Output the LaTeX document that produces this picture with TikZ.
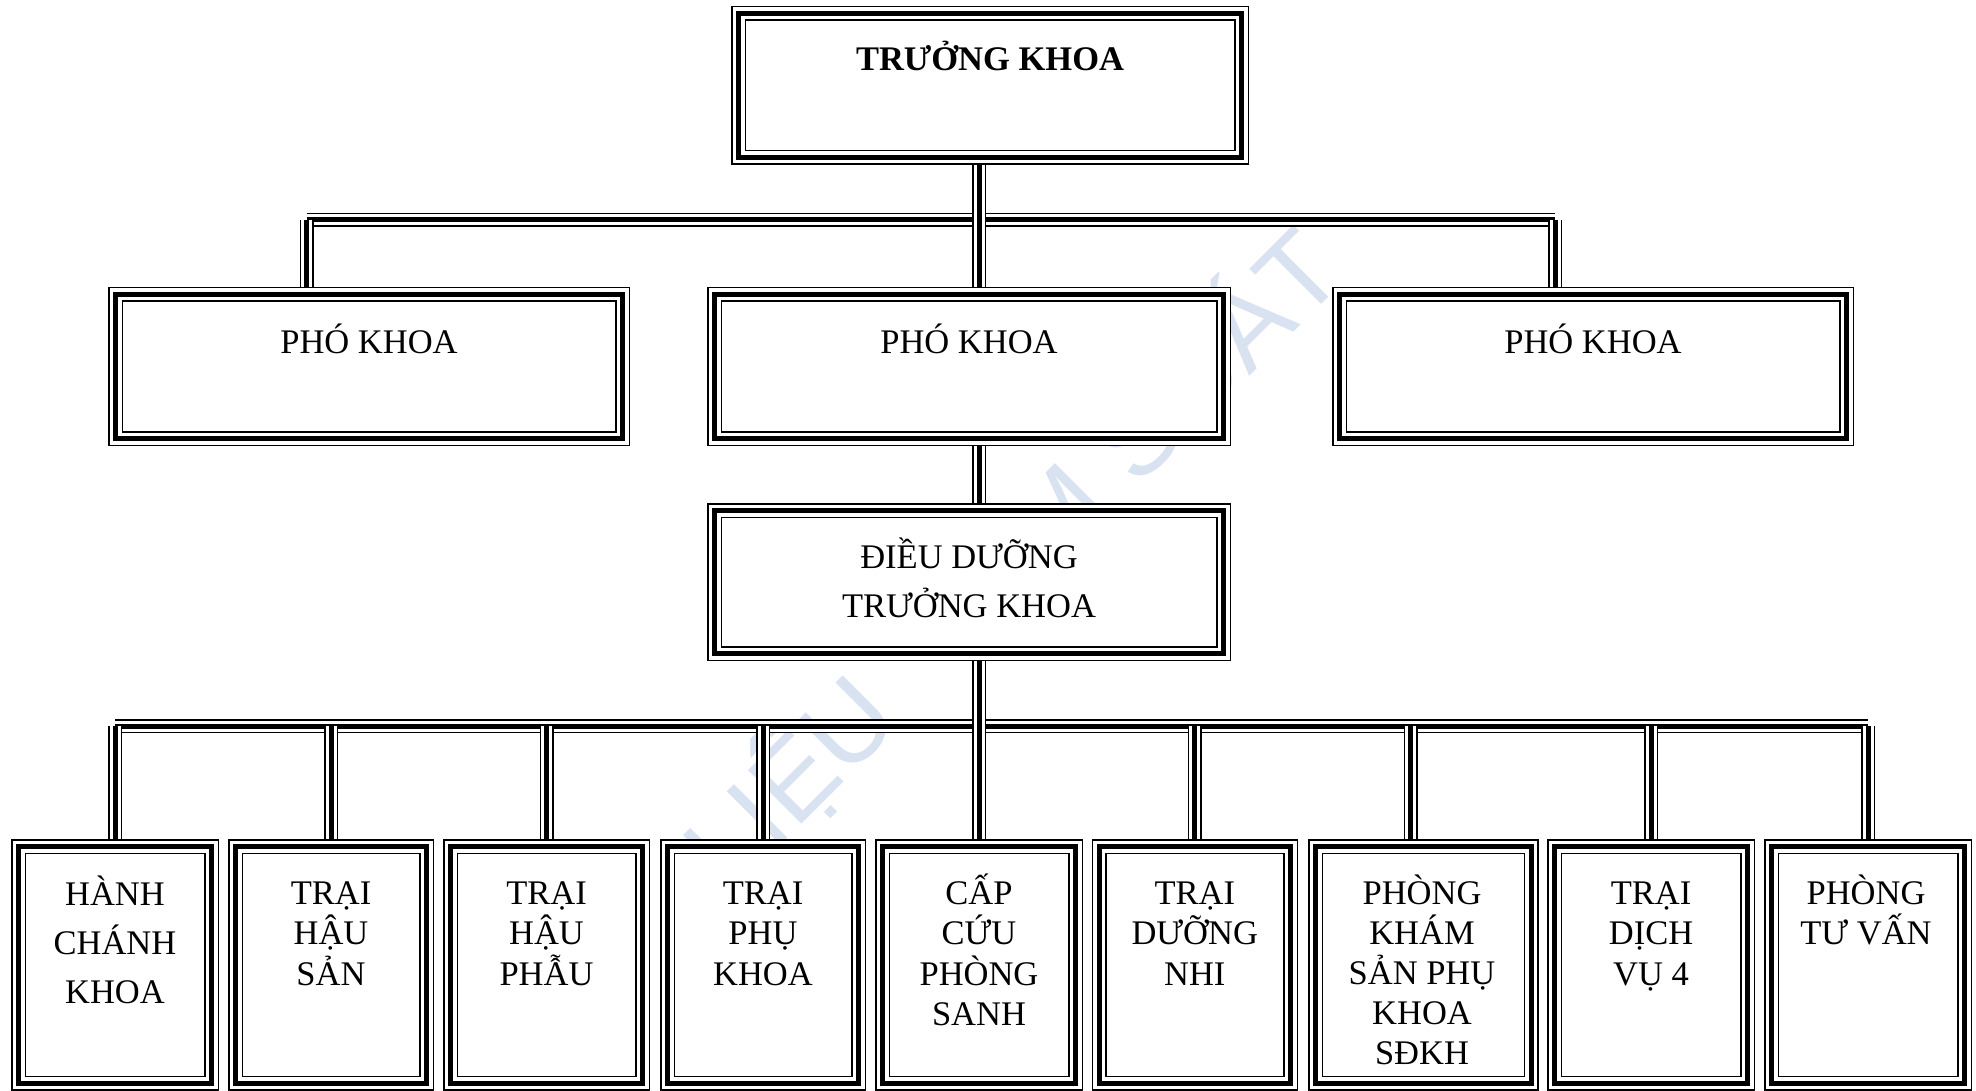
\documentclass[tikz,border=0pt]{standalone}
\usepackage{fontspec}
\setmainfont{Liberation Serif}
\newfontfamily\wmfont{Liberation Sans}
\definecolor{wmblue}{RGB}{217,226,241}
\newcommand{\cstack}[2]{\vtop{\baselineskip=#1\relax\lineskiplimit=-1000pt\relax\lineskip=0pt\relax\halign{\hfil##\hfil\cr#2\crcr}}}
\begin{document}
\begin{tikzpicture}[x=1pt,y=-1pt,
  tribox/.style={draw=black, line width=15pt, fill=white, inner sep=0pt, outer sep=7.5pt,
    postaction={draw=white, fill=none, line width=12pt},
    postaction={draw=black, fill=none, line width=5pt}},
  tri/.style={draw=black, line width=14pt,
    postaction={draw=white, line width=11pt},
    postaction={draw=black, line width=5pt}},
  lbl/.style={inner sep=0pt, anchor=base, font=\fontsize{34.5pt}{40pt}\selectfont},
  lblb/.style={lbl, font=\bfseries\fontsize{34.5pt}{40pt}\selectfont},
  wmark/.style={rotate=45, anchor=base west, text=wmblue, inner sep=0pt, font=\wmfont\fontsize{110pt}{110pt}\selectfont},
]
\useasboundingbox (0,0) rectangle (1976,1091);
\fill[white] (0,0) rectangle (1976,1091);

% watermark (only the parts that show between the boxes)
\coordinate (wm0) at (730,896);
\node[wmark] (wm1) at (wm0) {LIỆU};
\node[wmark] (wm2) at ([shift={(45:208pt)}]wm1.base east) {M};
\node[wmark] (wm3) at ([shift={(45:30.6pt)}]wm2.base east) {SOÁT};

% boxes
\node[tribox, minimum width=503pt, minimum height=144pt] (top) at (990,85.5) {};
\node[tribox, minimum width=507pt, minimum height=144pt] (pk1) at (369,366.5) {};
\node[tribox, minimum width=509pt, minimum height=144pt] (pk2) at (969,366.5) {};
\node[tribox, minimum width=507pt, minimum height=144pt] (pk3) at (1593,366.5) {};
\node[tribox, minimum width=509pt, minimum height=143pt] (dd) at (969,582) {};

\node[tribox, minimum width=193pt, minimum height=236.5pt] (b1) at (115,964.75) {};
\node[tribox, minimum width=191pt, minimum height=236.5pt] (b2) at (331,964.75) {};
\node[tribox, minimum width=192pt, minimum height=236.5pt] (b3) at (546.5,964.75) {};
\node[tribox, minimum width=191pt, minimum height=236.5pt] (b4) at (763,964.75) {};
\node[tribox, minimum width=193pt, minimum height=236.5pt] (b5) at (979,964.75) {};
\node[tribox, minimum width=191.5pt, minimum height=236.5pt] (b6) at (1194.75,964.75) {};
\node[tribox, minimum width=215.6pt, minimum height=236.5pt] (b7) at (1423.3,964.75) {};
\node[tribox, minimum width=193pt, minimum height=236.5pt] (b8) at (1651,964.75) {};
\node[tribox, minimum width=193pt, minimum height=236.5pt] (b9) at (1868,964.75) {};

% connector coordinates
\coordinate (h1L) at (306.5,220);
\coordinate (h1R) at (1555,220);
\coordinate (h2L) at (115,726);
\coordinate (h2R) at (1868,726);

% bars
\draw[tri] (h1L) -- (h1R);
\draw[tri] (h2L) -- (h2R);
% drops level 1
\draw[tri] (h1L) -- (h1L |- pk1.north);
\draw[tri] (h1R) -- (h1R |- pk3.north);
% drops level 2
\foreach \b in {b1,b2,b3,b4,b6,b8,b9} { \draw[tri] (h2L -| \b.north) -- (\b.north); }
\draw[tri] ([xshift=-12.7pt]b7.north |- h2L) -- ([xshift=-12.7pt]b7.north);
% spine
\draw[tri] (top.south -| b5.north) -- (pk2.north -| b5.north);
\draw[tri] (pk2.south -| b5.north) -- (dd.north -| b5.north);
\draw[tri] (dd.south -| b5.north) -- (b5.north);

% texts
\node[lblb] (top-t) at (990,71) {TRƯỞNG KHOA};
\node[lbl] (pk1-t) at (369,353) {PHÓ KHOA};
\node[lbl] (pk2-t) at (969,353) {PHÓ KHOA};
\node[lbl] (pk3-t) at (1593,353) {PHÓ KHOA};
\node[lbl] (dd-t) at (969,568) {\cstack{49pt}{ĐIỀU DƯỠNG\cr TRƯỞNG KHOA}};

\node[lbl] (b1-t) at (115,905) {\cstack{49pt}{HÀNH\cr CHÁNH\cr KHOA}};
\node[lbl] (b2-t) at (331,904) {\cstack{40.5pt}{TRẠI\cr HẬU\cr SẢN}};
\node[lbl] (b3-t) at (546.5,904) {\cstack{40.5pt}{TRẠI\cr HẬU\cr PHẪU}};
\node[lbl] (b4-t) at (763,904) {\cstack{40.5pt}{TRẠI\cr PHỤ\cr KHOA}};
\node[lbl] (b5-t) at (979,904) {\cstack{40.5pt}{CẤP\cr CỨU\cr PHÒNG\cr SANH}};
\node[lbl] (b6-t) at (1194.75,904) {\cstack{40.5pt}{TRẠI\cr DƯỠNG\cr NHI}};
\node[lbl] (b7-t) at (1422,904) {\cstack{40pt}{PHÒNG\cr KHÁM\cr SẢN PHỤ\cr KHOA\cr SĐKH}};
\node[lbl] (b8-t) at (1651,904) {\cstack{40.5pt}{TRẠI\cr DỊCH\cr VỤ 4}};
\node[lbl] (b9-t) at (1866,904) {\cstack{40.5pt}{PHÒNG\cr TƯ VẤN}};
\end{tikzpicture}
\end{document}
